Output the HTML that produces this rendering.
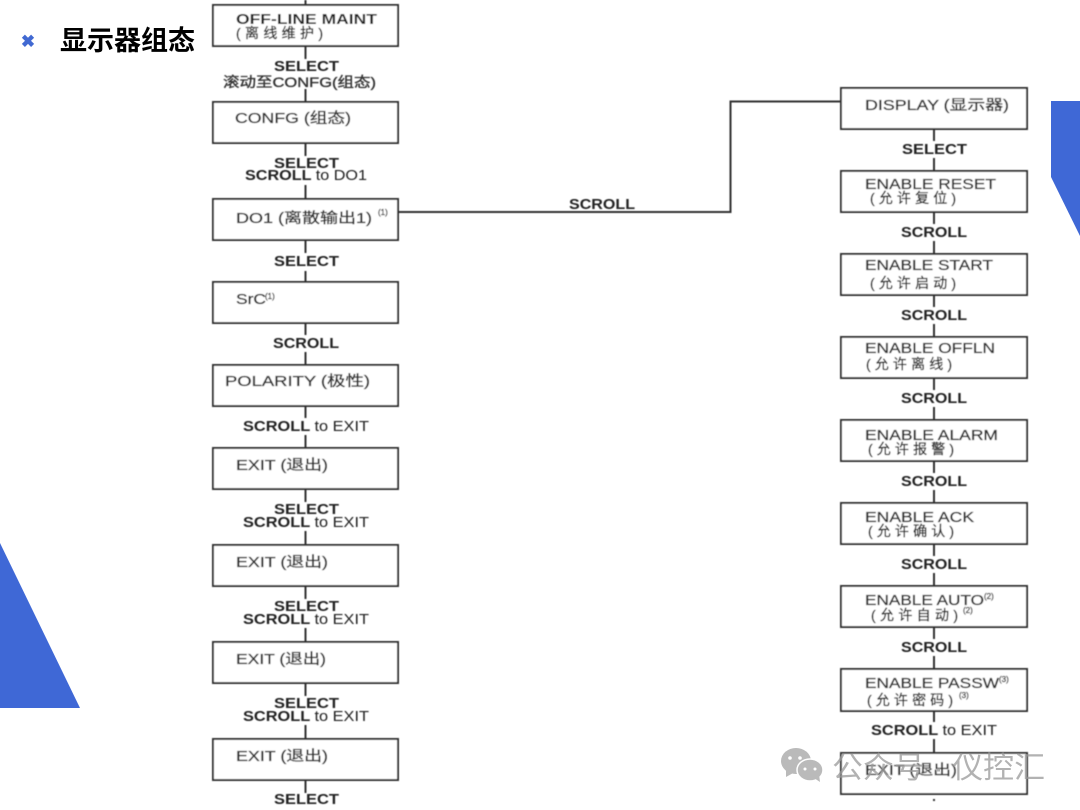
<!DOCTYPE html>
<html><head><meta charset="utf-8"><style>
html,body{margin:0;padding:0;background:#fff;width:1080px;height:810px;overflow:hidden}
svg{display:block}
text{font-family:"Liberation Sans","Noto Sans CJK SC",sans-serif}
.b text,text.b{font-weight:bold}
</style></head><body>
<svg width="1080" height="810" viewBox="0 0 1080 810" xmlns="http://www.w3.org/2000/svg">
<defs><filter id="f" x="-2%" y="-2%" width="104%" height="104%"><feGaussianBlur stdDeviation="0.55"/></filter></defs>
<rect width="1080" height="810" fill="#fff"/>
<polygon points="0,543 80,708 0,708" fill="#3f68d6"/>
<polygon points="1051,101 1080,101 1080,236 1051,177" fill="#3f68d6"/>
<text x="28" y="47" font-size="17" font-weight="bold" fill="#4169d2" text-anchor="middle">✖</text>
<text class="b" x="60" y="50" font-size="27" fill="#000" textLength="135" lengthAdjust="spacingAndGlyphs">显示器组态</text>

<g filter="url(#f)">
<g fill="#fff" stroke="#333" stroke-width="2">
<rect x="213" y="5" width="185" height="41"/>
<rect x="213" y="102" width="185" height="41"/>
<rect x="213" y="199" width="185" height="41"/>
<rect x="213" y="282" width="185" height="41"/>
<rect x="213" y="365" width="185" height="41"/>
<rect x="213" y="448" width="185" height="41"/>
<rect x="213" y="545" width="185" height="41"/>
<rect x="213" y="642" width="185" height="41"/>
<rect x="213" y="739" width="185" height="41"/>
<rect x="841" y="88" width="186" height="41"/>
<rect x="841" y="171" width="186" height="41"/>
<rect x="841" y="254" width="186" height="41"/>
<rect x="841" y="337" width="186" height="41"/>
<rect x="841" y="420" width="186" height="41"/>
<rect x="841" y="503" width="186" height="41"/>
<rect x="841" y="586" width="186" height="41"/>
<rect x="841" y="669" width="186" height="42"/>
<rect x="841" y="753" width="186" height="41"/>
</g>
<g stroke="#333" stroke-width="2" fill="none">
<path d="M305.500 0V5M305.500 46V59M305.500 89V102M305.500 143V156M305.500 185V199M305.500 240V253M305.500 271V282M305.500 323V335M305.500 352V365M305.500 406V418M305.500 435V448M305.500 489V502M305.500 531V545M305.500 586V599M305.500 628V642M305.500 683V696M305.500 725V739M305.500 780V793"/>
<path d="M398 212H730.500V101.500H841"/>
<path d="M934 129V141M934 158V171M934 212V224M934 241V254M934 295V307M934 324V337M934 378V390M934 407V420M934 461V473M934 490V503M934 544V556M934 573V586M934 627V639M934 656V669M934 711V722M934 739V753"/>
<path d="M934 799V803" stroke-dasharray="2 2"/>
</g>

<g fill="#222" font-size="14.500" font-weight="bold">
<text x="236" y="24" textLength="141" lengthAdjust="spacingAndGlyphs">OFF-LINE MAINT</text>
<text x="274" y="71" textLength="65" lengthAdjust="spacingAndGlyphs">SELECT</text>
<text x="274" y="168" textLength="65" lengthAdjust="spacingAndGlyphs">SELECT</text>
<text x="274" y="266" textLength="65" lengthAdjust="spacingAndGlyphs">SELECT</text>
<text x="274" y="514" textLength="65" lengthAdjust="spacingAndGlyphs">SELECT</text>
<text x="274" y="611" textLength="65" lengthAdjust="spacingAndGlyphs">SELECT</text>
<text x="274" y="708" textLength="65" lengthAdjust="spacingAndGlyphs">SELECT</text>
<text x="274" y="804" textLength="65" lengthAdjust="spacingAndGlyphs">SELECT</text>
<text x="902" y="154" textLength="65" lengthAdjust="spacingAndGlyphs">SELECT</text>
<text x="245" y="180" textLength="122" lengthAdjust="spacingAndGlyphs">SCROLL <tspan font-weight="normal">to DO1</tspan></text>
<text x="273" y="348" textLength="66" lengthAdjust="spacingAndGlyphs">SCROLL</text>
<text x="243" y="431" textLength="126" lengthAdjust="spacingAndGlyphs">SCROLL <tspan font-weight="normal">to EXIT</tspan></text>
<text x="243" y="527" textLength="126" lengthAdjust="spacingAndGlyphs">SCROLL <tspan font-weight="normal">to EXIT</tspan></text>
<text x="243" y="624" textLength="126" lengthAdjust="spacingAndGlyphs">SCROLL <tspan font-weight="normal">to EXIT</tspan></text>
<text x="243" y="721" textLength="126" lengthAdjust="spacingAndGlyphs">SCROLL <tspan font-weight="normal">to EXIT</tspan></text>
<text x="569" y="209" textLength="66" lengthAdjust="spacingAndGlyphs">SCROLL</text>
<text x="901" y="237" textLength="66" lengthAdjust="spacingAndGlyphs">SCROLL</text>
<text x="901" y="320" textLength="66" lengthAdjust="spacingAndGlyphs">SCROLL</text>
<text x="901" y="403" textLength="66" lengthAdjust="spacingAndGlyphs">SCROLL</text>
<text x="901" y="486" textLength="66" lengthAdjust="spacingAndGlyphs">SCROLL</text>
<text x="901" y="569" textLength="66" lengthAdjust="spacingAndGlyphs">SCROLL</text>
<text x="901" y="652" textLength="66" lengthAdjust="spacingAndGlyphs">SCROLL</text>
<text x="871" y="735" textLength="126" lengthAdjust="spacingAndGlyphs">SCROLL <tspan font-weight="normal">to EXIT</tspan></text>
</g>

<g fill="#333" stroke="#333" stroke-width="0.35" font-size="14.500">
<text x="236" y="38" font-size="14" textLength="87" lengthAdjust="spacing">(离线维护)</text>
<text x="223" y="87" font-size="14" textLength="153" lengthAdjust="spacingAndGlyphs">滚动至CONFG(组态)</text>
<text x="235" y="123" textLength="116" lengthAdjust="spacingAndGlyphs">CONFG (组态)</text>
<text x="236" y="223" textLength="136" lengthAdjust="spacingAndGlyphs">DO1 (离散输出1)</text>
<text x="378" y="215" font-size="8">(1)</text>
<text x="236" y="304" textLength="30" lengthAdjust="spacingAndGlyphs">SrC</text>
<text x="265" y="299" font-size="8">(1)</text>
<text x="225" y="386" textLength="145" lengthAdjust="spacingAndGlyphs">POLARITY (极性)</text>
<text x="236" y="470" textLength="92" lengthAdjust="spacingAndGlyphs">EXIT (退出)</text>
<text x="236" y="567" textLength="92" lengthAdjust="spacingAndGlyphs">EXIT (退出)</text>
<text x="236" y="664" textLength="90" lengthAdjust="spacingAndGlyphs">EXIT (退出)</text>
<text x="236" y="761" textLength="92" lengthAdjust="spacingAndGlyphs">EXIT (退出)</text>

<text x="865" y="110" textLength="144" lengthAdjust="spacingAndGlyphs">DISPLAY (显示器)</text>
<text x="865" y="189" textLength="131" lengthAdjust="spacingAndGlyphs">ENABLE RESET</text>
<text x="870" y="203" font-size="14" textLength="86" lengthAdjust="spacing">(允许复位)</text>
<text x="865" y="270" textLength="128" lengthAdjust="spacingAndGlyphs">ENABLE START</text>
<text x="870" y="288" font-size="14" textLength="86" lengthAdjust="spacing">(允许启动)</text>
<text x="865" y="353" textLength="130" lengthAdjust="spacingAndGlyphs">ENABLE OFFLN</text>
<text x="866" y="369" font-size="14" textLength="86" lengthAdjust="spacing">(允许离线)</text>
<text x="865" y="440" textLength="133" lengthAdjust="spacingAndGlyphs">ENABLE ALARM</text>
<text x="868" y="454" font-size="14" textLength="86" lengthAdjust="spacing">(允许报警)</text>
<text x="865" y="522" textLength="109" lengthAdjust="spacingAndGlyphs">ENABLE ACK</text>
<text x="868" y="536" font-size="14" textLength="86" lengthAdjust="spacing">(允许确认)</text>
<text x="865" y="605" textLength="119" lengthAdjust="spacingAndGlyphs">ENABLE AUTO</text>
<text x="984" y="599" font-size="8">(2)</text>
<text x="871" y="620" font-size="14" textLength="87" lengthAdjust="spacing">(允许自动)</text>
<text x="963" y="613" font-size="8">(2)</text>
<text x="865" y="688" textLength="134" lengthAdjust="spacingAndGlyphs">ENABLE PASSW</text>
<text x="999" y="682" font-size="8">(3)</text>
<text x="867" y="705" font-size="14" textLength="86" lengthAdjust="spacing">(允许密码)</text>
<text x="959" y="698" font-size="8">(3)</text>
<text x="865" y="775" textLength="92" lengthAdjust="spacingAndGlyphs">EXIT (退出)</text>
</g>
</g>

<g opacity="0.5" fill="#777">
<ellipse cx="796" cy="761" rx="15" ry="13"/>
<polygon points="786,770 786,777 795,772"/>
<ellipse cx="810" cy="770" rx="13" ry="11" stroke="#fff" stroke-width="1.500"/>
<polygon points="814,778 820,782 819,774"/>
</g>
<g fill="#fff"><circle cx="790" cy="758" r="1.800"/><circle cx="800" cy="758" r="1.800"/><circle cx="805" cy="769" r="1.500"/><circle cx="815" cy="769" r="1.500"/></g>
<text x="832" y="778" font-size="30" fill="#999" opacity="0.75" textLength="213" lengthAdjust="spacingAndGlyphs">公众号 · 仪控汇</text>
</svg>
</body></html>
